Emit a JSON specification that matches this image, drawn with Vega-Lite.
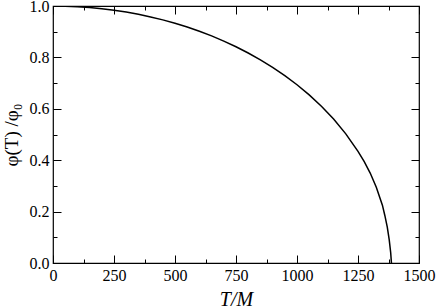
{
  "$schema": "https://vega.github.io/schema/vega-lite/v6.json",
  "autosize": {"type": "none"},
  "width": 366,
  "height": 257,
  "padding": {"left": 53, "top": 6, "right": 17, "bottom": 45},
  "background": "white",
  "config": {
    "font": "Liberation Serif",
    "view": {"stroke": "black", "strokeWidth": 1.2},
    "axis": {
      "grid": false,
      "domain": false,
      "tickColor": "black",
      "labelColor": "black",
      "titleColor": "black",
      "labelFont": "Liberation Serif",
      "titleFont": "Liberation Serif",
      "labelFontSize": 16,
      "titleFontSize": 20,
      "titleFontWeight": "normal",
      "labelFlush": false,
      "labelOverlap": false,
      "tickWidth": 1
    }
  },
  "data": {
    "values": [
      {"T": 0, "v": 1.0},
      {"T": 50, "v": 0.9994},
      {"T": 100, "v": 0.9974},
      {"T": 150, "v": 0.9941},
      {"T": 200, "v": 0.9896},
      {"T": 250, "v": 0.9836},
      {"T": 300, "v": 0.9764},
      {"T": 350, "v": 0.9677},
      {"T": 400, "v": 0.9576},
      {"T": 450, "v": 0.946},
      {"T": 500, "v": 0.9329},
      {"T": 550, "v": 0.9181},
      {"T": 600, "v": 0.9017},
      {"T": 650, "v": 0.8836},
      {"T": 700, "v": 0.8635},
      {"T": 750, "v": 0.8414},
      {"T": 800, "v": 0.8172},
      {"T": 850, "v": 0.7906},
      {"T": 900, "v": 0.7613},
      {"T": 950, "v": 0.729},
      {"T": 1000, "v": 0.6935},
      {"T": 1050, "v": 0.654},
      {"T": 1100, "v": 0.6098},
      {"T": 1150, "v": 0.5599},
      {"T": 1200, "v": 0.5025},
      {"T": 1250, "v": 0.4346},
      {"T": 1275, "v": 0.3952},
      {"T": 1300, "v": 0.35},
      {"T": 1325, "v": 0.295},
      {"T": 1350, "v": 0.225},
      {"T": 1360, "v": 0.185},
      {"T": 1370, "v": 0.14},
      {"T": 1378, "v": 0.09},
      {"T": 1384, "v": 0.04},
      {"T": 1387, "v": 0.0}
    ]
  },
  "resolve": {"axis": {"x": "independent", "y": "independent"}},
  "layer": [
    {
      "mark": {"type": "line", "color": "black", "strokeWidth": 1.5, "clip": true},
      "encoding": {
        "x": {"field": "T", "type": "quantitative", "scale": {"domain": [0, 1500], "nice": false},
          "axis": {"orient": "bottom", "values": [0, 250, 500, 750, 1000, 1250, 1500], "format": "d", "tickSize": -8, "labelPadding": 12, "title": "T/M", "titleFontStyle": "italic", "titlePadding": 6}},
        "y": {"field": "v", "type": "quantitative", "scale": {"domain": [0, 1], "nice": false},
          "axis": {"orient": "left", "values": [0, 0.2, 0.4, 0.6, 0.8, 1.0], "format": ".1f", "tickSize": -8, "labelPadding": 12, "title": "φ(T) /φ₀", "titleFontSize": 19, "titlePadding": 8}}
      }
    },
    {
      "mark": {"type": "line", "opacity": 0},
      "encoding": {
        "x": {"field": "T", "type": "quantitative", "scale": {"domain": [0, 1500], "nice": false},
          "axis": {"orient": "bottom", "values": [125, 375, 625, 875, 1125, 1375], "tickSize": -4, "labels": false, "title": null}},
        "y": {"field": "v", "type": "quantitative", "scale": {"domain": [0, 1], "nice": false},
          "axis": {"orient": "left", "values": [0.1, 0.3, 0.5, 0.7, 0.9], "tickSize": -4, "labels": false, "title": null}}
      }
    },
    {
      "mark": {"type": "line", "opacity": 0},
      "encoding": {
        "x": {"field": "T", "type": "quantitative", "scale": {"domain": [0, 1500], "nice": false},
          "axis": {"orient": "top", "values": [0, 250, 500, 750, 1000, 1250, 1500], "tickSize": -8, "labels": false, "title": null}},
        "y": {"field": "v", "type": "quantitative", "scale": {"domain": [0, 1], "nice": false},
          "axis": {"orient": "right", "values": [0, 0.2, 0.4, 0.6, 0.8, 1.0], "tickSize": -8, "labels": false, "title": null}}
      }
    },
    {
      "mark": {"type": "line", "opacity": 0},
      "encoding": {
        "x": {"field": "T", "type": "quantitative", "scale": {"domain": [0, 1500], "nice": false},
          "axis": {"orient": "top", "values": [125, 375, 625, 875, 1125, 1375], "tickSize": -4, "labels": false, "title": null}},
        "y": {"field": "v", "type": "quantitative", "scale": {"domain": [0, 1], "nice": false},
          "axis": {"orient": "right", "values": [0.1, 0.3, 0.5, 0.7, 0.9], "tickSize": -4, "labels": false, "title": null}}
      }
    }
  ]
}
